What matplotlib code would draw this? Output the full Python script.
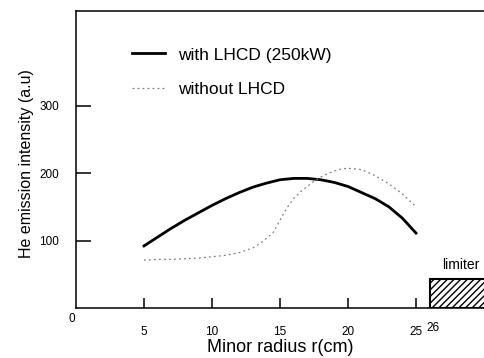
import matplotlib
matplotlib.use("Agg")
import matplotlib.pyplot as plt
from matplotlib.patches import Rectangle
import numpy as np

plt.rcParams['font.family'] = ['Liberation Sans', 'DejaVu Sans']

# with LHCD (250kW)
r_on = [5, 6, 7, 8, 9, 10, 11, 12, 13, 14, 15, 16, 17, 18, 19, 20, 21, 22, 23, 24, 25]
he_on = [92, 105, 118, 130, 141, 152, 162, 171, 179, 185, 190, 192, 192, 190, 186, 180, 171, 162, 150, 133, 111]

# without LHCD
r_off = [5, 6, 7, 8, 9, 10, 11, 12, 13, 13.5, 14, 14.5, 15, 15.5, 16, 16.5, 17, 17.5,
         18, 18.5, 19, 19.5, 20, 21, 22, 23, 24, 25]
he_off = [71, 72, 72, 73, 74, 76, 78, 82, 89, 95, 103, 112, 130, 148, 162, 172, 180, 188,
          194, 199, 203, 206, 207, 205, 196, 184, 169, 150]

xticks = [5, 10, 15, 20, 25]
yticks = [100, 200, 300]
limiter_r = 26
limiter_h = 43

fig = plt.figure(figsize=(4.84, 3.58), dpi=100)
ax = fig.add_axes([76/484, 50/358, 408/484, 297/358])

ax.plot(r_on, he_on, color='black', lw=2.0, label='with LHCD (250kW)')
ax.plot(r_off, he_off, color='0.5', lw=0.9, linestyle=(0, (1.5, 2.5)), label='without LHCD')

ax.add_patch(Rectangle((limiter_r, 0), 6, limiter_h, facecolor='white', edgecolor='black',
                       hatch='/////', lw=1.5, clip_on=True))
ax.text(26.9, 63, 'limiter', fontsize=10, ha='left', va='center')

ax.set_xlim(0, 30)
ax.set_ylim(0, 440)
ax.spines['right'].set_visible(False)
for s in ['left', 'bottom', 'top']:
    ax.spines[s].set_linewidth(1.1)

ax.set_xticks(xticks)
ax.set_xticklabels([str(v) for v in xticks])
ax.set_yticks(yticks)
ax.tick_params(axis='x', direction='in', length=7.5, width=1.1, pad=13, labelsize=8.5)
ax.tick_params(axis='y', direction='in', length=10.5, width=1.1, pad=12, labelsize=8.5)
ax.text(26.25, -29, '26', fontsize=8.5, ha='center', va='center')
ax.text(-0.3, -16, '0', fontsize=8.5, ha='center', va='center')

ax.set_xlabel('Minor radius r(cm)', fontsize=13, labelpad=1)
ax.set_ylabel('He emission intensity (a.u)', fontsize=11.5)
ax.yaxis.set_label_coords(-0.125 + 9/408, 0.485)

ax.legend(loc='upper left', bbox_to_anchor=(0.1, 0.93), frameon=False, fontsize=12.5,
          handlelength=1.9, handletextpad=0.7, labelspacing=1.1)

fig.savefig('out.png', dpi=100)
